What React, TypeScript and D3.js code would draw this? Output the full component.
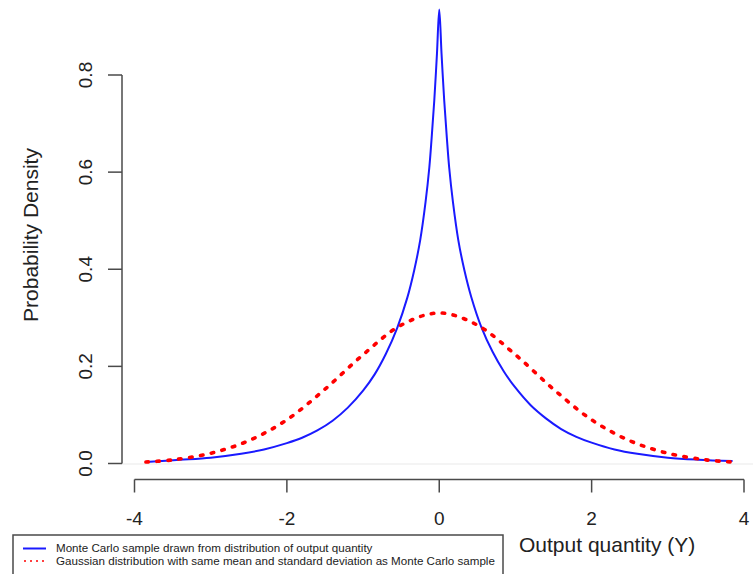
import React from 'react';
import * as d3 from 'd3';

// blue: Monte Carlo sample density
const mcX = [-3.85, -3.4, -3.0, -2.6, -2.3, -2.0, -1.8, -1.6, -1.4, -1.2, -1.0, -0.85, -0.7, -0.55, -0.42, -0.33, -0.25, -0.18, -0.13, -0.1, -0.065, -0.03, 0,
  0.03, 0.065, 0.1, 0.13, 0.18, 0.25, 0.33, 0.42, 0.55, 0.7, 0.85, 1.0, 1.2, 1.4, 1.6, 1.8, 2.0, 2.3, 2.6, 3.0, 3.4, 3.85];
const mcY = [0.003, 0.0075, 0.012, 0.02, 0.029, 0.042, 0.053, 0.068, 0.088, 0.115, 0.15, 0.183, 0.226, 0.28, 0.341, 0.397, 0.46, 0.538, 0.61, 0.67, 0.748, 0.844, 0.935,
  0.844, 0.748, 0.67, 0.61, 0.538, 0.46, 0.398, 0.343, 0.282, 0.23, 0.189, 0.156, 0.12, 0.093, 0.071, 0.055, 0.043, 0.029, 0.02, 0.012, 0.0078, 0.005];

// red: gaussian with same mean / sd
const gaussX = [-3.85, -3.5, -3.0, -2.5, -2.0, -1.5, -1.0, -0.5, 0, 0.5, 1.0, 1.5, 2.0, 2.5, 3.0, 3.5, 3.85];
const gaussY = [0.003, 0.0075, 0.021, 0.047, 0.09, 0.153, 0.224, 0.285, 0.31, 0.285, 0.224, 0.153, 0.09, 0.047, 0.021, 0.0075, 0.003];

const xTicks = [-4, -2, 0, 2, 4];
const yTicks = [0, 0.2, 0.4, 0.6, 0.8];
const legendLabels = [
  'Monte Carlo sample drawn from distribution of output quantity',
  'Gaussian distribution with same mean and standard deviation as Monte Carlo sample',
];

const W = 753, H = 574;
const font = '"Liberation Sans", Arial, Helvetica, sans-serif';
const axisCol = '#4a4a4a';

export default function App() {
  const x = d3.scaleLinear().domain([-4, 4]).range([134.5, 744]);
  const y = d3.scaleLinear().domain([0, 0.8]).range([463.5, 75]);
  const xAxisY = 479.5;
  const yAxisX = 122;

  const line = d3.line<[number, number]>()
    .x(d => x(d[0]))
    .y(d => y(d[1]))
    .curve(d3.curveCatmullRom.alpha(0.5));

  const mcPts = mcX.map((v, i) => [v, mcY[i]] as [number, number]);
  const gPts = gaussX.map((v, i) => [v, gaussY[i]] as [number, number]);

  return (
    <svg width={W} height={H} style={{ position: 'absolute', left: 0, top: 0, background: '#fff' }}>
      {/* faint zero line */}
      <line x1={yAxisX} x2={W} y1={y(0) + 0.5} y2={y(0) + 0.5} stroke="#f0f0f0" strokeWidth={1.5} />

      <path d={line(mcPts) || ''} fill="none" stroke="#1a1aff" strokeWidth={2} />
      <path d={line(gPts) || ''} fill="none" stroke="#ff0000" strokeWidth={3.6}
        strokeDasharray="2.5 8.5" strokeLinecap="round" />

      {/* y axis */}
      <g stroke={axisCol} strokeWidth={1.5} fill="none">
        <line x1={yAxisX} x2={yAxisX} y1={y(0.8)} y2={y(0)} />
        {yTicks.map(t => <line key={t} x1={yAxisX - 14} x2={yAxisX} y1={y(t)} y2={y(t)} />)}
      </g>
      {yTicks.map(t => (
        <text key={t} transform={`translate(92,${y(t)}) rotate(-90)`} textAnchor="middle"
          fontFamily={font} fontSize={19} fill="#222">{t.toFixed(1)}</text>
      ))}
      <text transform={`translate(38,235) rotate(-90)`} textAnchor="middle"
        fontFamily={font} fontSize={21} fill="#222">Probability Density</text>

      {/* x axis */}
      <g stroke={axisCol} strokeWidth={1.5} fill="none">
        <line x1={x(-4)} x2={x(4)} y1={xAxisY} y2={xAxisY} />
        {xTicks.map(t => <line key={t} x1={x(t)} x2={x(t)} y1={xAxisY} y2={xAxisY + 13} />)}
      </g>
      {xTicks.map(t => (
        <text key={t} x={x(t)} y={525} textAnchor="middle" fontFamily={font} fontSize={19} fill="#222">{t}</text>
      ))}
      <text x={519} y={552} fontFamily={font} fontSize={21} fill="#222">Output quantity (Y)</text>

      {/* legend */}
      <rect x={13} y={535} width={490} height={50} fill="#fff" stroke={axisCol} strokeWidth={1.5} />
      <line x1={23} x2={46} y1={548.5} y2={548.5} stroke="#1a1aff" strokeWidth={2} />
      <line x1={24} x2={46} y1={561} y2={561} stroke="#ff0000" strokeWidth={1.6}
        strokeDasharray="2 4" />
      {legendLabels.map((l, i) => (
        <text key={l} x={56} y={552 + i * 12.5} fontFamily={font} fontSize={11.6} fill="#222">{l}</text>
      ))}
    </svg>
  );
}
